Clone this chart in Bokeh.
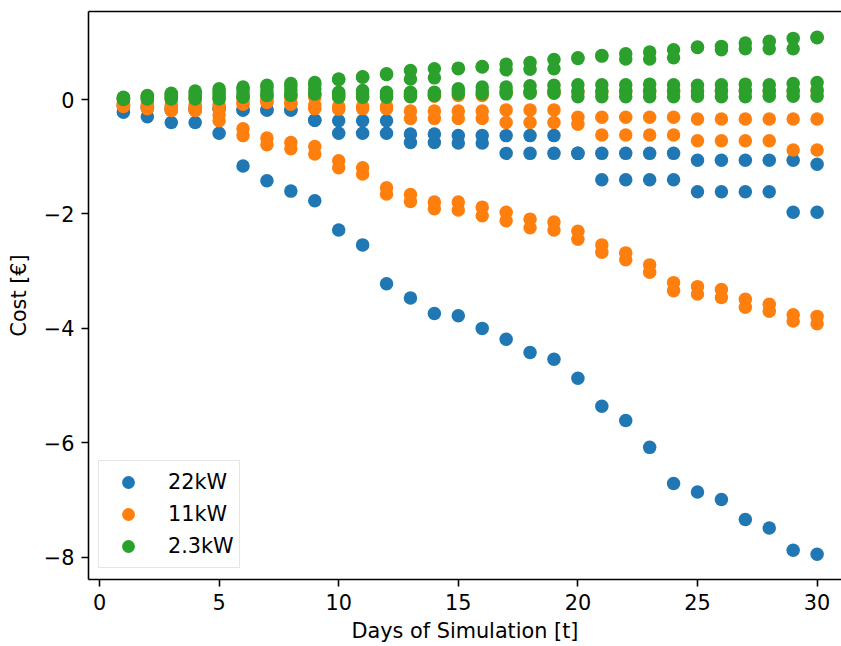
from bokeh.plotting import figure
from bokeh.models import Range1d, FixedTicker, LinearAxis
from bokeh.embed import file_html
from bokeh.resources import INLINE

days = list(range(1, 31))

# 22kW series (three scenario curves)
kw22_a = [-0.22, -0.30, -0.40, -0.40, -0.59, -1.16, -1.42, -1.60, -1.77, -2.28,
          -2.54, -3.22, -3.47, -3.74, -3.78, -4.00, -4.19, -4.42, -4.54, -4.87,
          -5.36, -5.61, -6.08, -6.71, -6.86, -6.99, -7.34, -7.49, -7.88, -7.95]
kw22_b = [-0.12, -0.15, -0.18, -0.18, -0.16, -0.18, -0.18, -0.18, -0.36, -0.59,
          -0.59, -0.59, -0.75, -0.75, -0.76, -0.76, -0.94, -0.94, -0.94, -0.94,
          -1.40, -1.40, -1.40, -1.40, -1.61, -1.61, -1.61, -1.61, -1.97, -1.97]
kw22_c = [-0.10, -0.12, -0.15, -0.15, -0.16, -0.18, -0.18, -0.18, -0.36, -0.37,
          -0.37, -0.37, -0.60, -0.60, -0.63, -0.63, -0.63, -0.63, -0.63, -0.94,
          -0.94, -0.94, -0.94, -0.94, -1.06, -1.06, -1.06, -1.06, -1.06, -1.13]

# 11kW series
kw11_a = [-0.10, -0.14, -0.18, -0.18, -0.27, -0.51, -0.67, -0.75, -0.82, -1.07,
          -1.19, -1.54, -1.66, -1.79, -1.79, -1.88, -1.97, -2.09, -2.14, -2.30,
          -2.54, -2.68, -2.89, -3.20, -3.27, -3.32, -3.49, -3.58, -3.76, -3.79]
kw11_b = [-0.12, -0.16, -0.19, -0.19, -0.37, -0.63, -0.79, -0.86, -0.95, -1.19,
          -1.30, -1.65, -1.78, -1.91, -1.93, -2.03, -2.12, -2.24, -2.28, -2.44,
          -2.67, -2.80, -3.02, -3.34, -3.40, -3.46, -3.63, -3.70, -3.87, -3.92]
kw11_c = [-0.08, -0.12, -0.15, -0.15, -0.16, -0.08, -0.05, -0.08, -0.16, -0.17,
          -0.16, -0.16, -0.33, -0.33, -0.33, -0.33, -0.40, -0.40, -0.40, -0.43,
          -0.62, -0.62, -0.62, -0.62, -0.72, -0.72, -0.72, -0.72, -0.88, -0.88]
kw11_d = [-0.05, -0.08, -0.10, -0.10, -0.10, -0.05, -0.03, -0.05, -0.10, -0.12,
          -0.12, -0.12, -0.20, -0.20, -0.20, -0.20, -0.18, -0.18, -0.18, -0.31,
          -0.31, -0.31, -0.31, -0.31, -0.34, -0.34, -0.34, -0.34, -0.34, -0.34]
kw11_e = [0.00, 0.00, 0.01, 0.01, 0.02, 0.02, 0.03, 0.03, 0.04, 0.05,
          0.05, 0.05, 0.06, 0.06, 0.07, 0.07, 0.12, 0.12, 0.12, 0.13,
          0.13, 0.13, 0.13, 0.13, 0.14, 0.14, 0.14, 0.14, 0.14, 0.14]

# 2.3kW series
kw2_a = [0.04, 0.07, 0.11, 0.15, 0.19, 0.22, 0.25, 0.28, 0.30, 0.36,
         0.40, 0.45, 0.51, 0.54, 0.55, 0.58, 0.62, 0.65, 0.70, 0.73,
         0.77, 0.80, 0.83, 0.87, 0.92, 0.93, 0.99, 1.02, 1.07, 1.09]
kw2_b = [0.03, 0.06, 0.09, 0.12, 0.15, 0.18, 0.21, 0.23, 0.26, 0.35,
         0.39, 0.44, 0.36, 0.38, 0.54, 0.57, 0.52, 0.53, 0.54, 0.72,
         0.76, 0.71, 0.71, 0.73, 0.91, 0.87, 0.89, 0.89, 0.89, 1.08]
kw2_c = [0.02, 0.04, 0.06, 0.08, 0.10, 0.12, 0.14, 0.16, 0.18, 0.13,
         0.16, 0.13, 0.13, 0.13, 0.19, 0.22, 0.22, 0.24, 0.25, 0.26,
         0.26, 0.26, 0.27, 0.26, 0.25, 0.26, 0.27, 0.26, 0.28, 0.30]
kw2_d = [0.01, 0.02, 0.03, 0.04, 0.05, 0.06, 0.08, 0.09, 0.10, 0.09,
         0.10, 0.09, 0.09, 0.10, 0.15, 0.15, 0.15, 0.15, 0.16, 0.15,
         0.15, 0.16, 0.16, 0.16, 0.15, 0.16, 0.16, 0.16, 0.16, 0.17]
kw2_e = [0.00, 0.01, 0.01, 0.01, 0.01, 0.04, 0.07, 0.07, 0.10, 0.04,
         0.04, 0.04, 0.05, 0.07, 0.10, 0.10, 0.10, 0.11, 0.11, 0.05,
         0.05, 0.05, 0.05, 0.05, 0.06, 0.05, 0.05, 0.06, 0.06, 0.06]

series_names = ["22kW", "11kW", "2.3kW"]
series_colors = ["#1f77b4", "#ff7f0e", "#2ca02c"]
series_curves = [[kw22_a, kw22_b, kw22_c],
                 [kw11_a, kw11_b, kw11_c, kw11_d, kw11_e],
                 [kw2_a, kw2_b, kw2_c, kw2_d, kw2_e]]

x_ticks = [0, 5, 10, 15, 20, 25, 30]
y_ticks = [-8, -6, -4, -2, 0]

FONT = "DejaVu Sans"
FS = "20.8px"

p = figure(width=841, height=646, output_backend="svg", toolbar_location=None,
           x_range=Range1d(-0.46, 31.02), y_range=Range1d(-8.39, 1.54),
           min_border_left=88, min_border_right=0, min_border_top=11,
           min_border_bottom=67)
p.xgrid.visible = False
p.ygrid.visible = False
p.outline_line_color = None
p.background_fill_color = "white"
p.border_fill_color = "white"

for name, color, curves in zip(series_names, series_colors, series_curves):
    xs, ys = [], []
    for c in curves:
        xs.extend(days)
        ys.extend(c)
    p.scatter(xs, ys, size=13.5, fill_color=color, line_color=None, legend_label=name)

for ax in (p.xaxis[0], p.yaxis[0]):
    ax.major_label_text_font = FONT
    ax.major_label_text_font_size = FS
    ax.major_label_text_color = "black"
    ax.axis_label_text_font = FONT
    ax.axis_label_text_font_size = FS
    ax.axis_label_text_font_style = "normal"
    ax.axis_label_text_color = "black"
    ax.axis_line_width = 1.6
    ax.axis_line_color = "black"
    ax.major_tick_line_width = 1.6
    ax.major_tick_line_color = "black"
    ax.major_tick_out = 7
    ax.major_tick_in = 0
    ax.minor_tick_line_color = None
    ax.major_label_standoff = 7

p.xaxis.ticker = FixedTicker(ticks=x_ticks)
p.yaxis.ticker = FixedTicker(ticks=y_ticks)
p.yaxis.major_label_overrides = {t: (str(t).replace("-", "\u2212")) for t in y_ticks}
p.xaxis.axis_label = "Days of Simulation [t]"
p.yaxis.axis_label = "Cost [\u20ac]"
p.xaxis.axis_label_standoff = 6
p.yaxis.axis_label_standoff = 10

top = LinearAxis(ticker=FixedTicker(ticks=[]), major_label_text_font_size="0px",
                 major_tick_line_color=None, minor_tick_line_color=None,
                 axis_line_width=1.6, axis_line_color="black",
                 major_tick_out=0, major_label_standoff=0)
p.add_layout(top, "above")

lg = p.legend[0]
lg.location = (10, 11)
lg.label_text_font = FONT
lg.label_text_font_size = FS
lg.label_text_color = "black"
lg.glyph_width = 48
lg.glyph_height = 32
lg.label_height = 32
lg.spacing = -2
lg.padding = 5
lg.margin = 0
lg.label_standoff = 16
lg.border_line_color = "#cccccc"
lg.border_line_width = 1.5
lg.background_fill_alpha = 0.8

open("out.html", "w").write(file_html(p, INLINE))
